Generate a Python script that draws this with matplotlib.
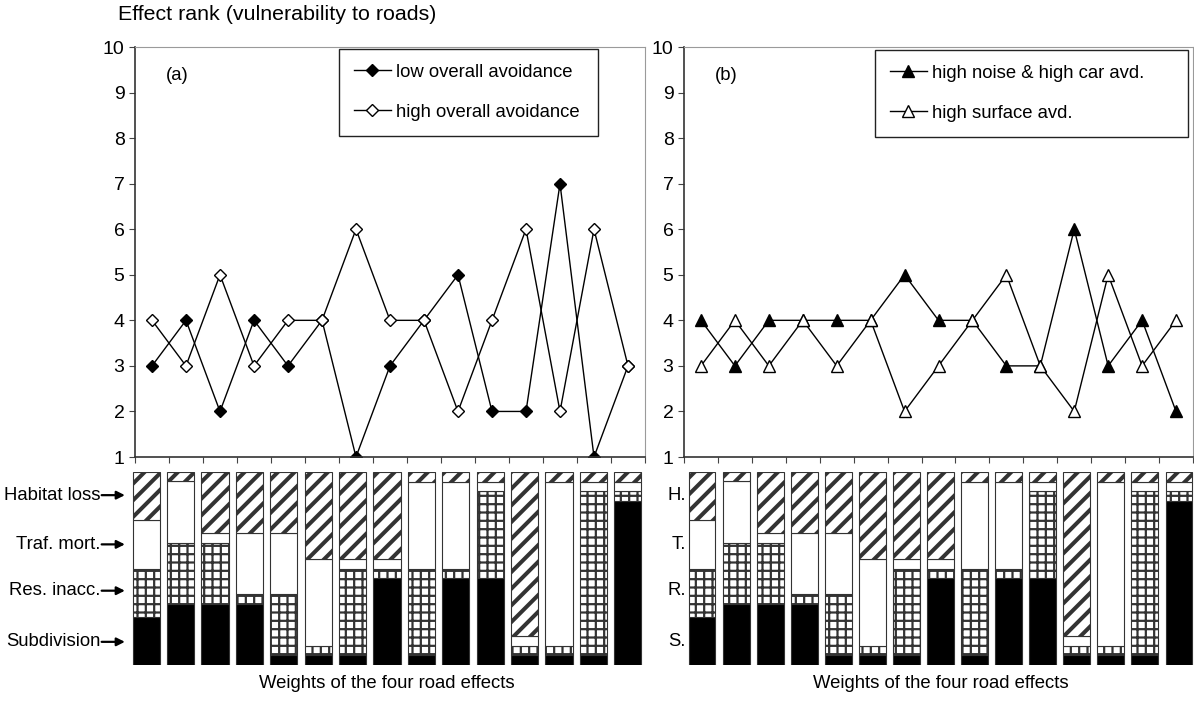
import numpy as np
import matplotlib
matplotlib.use('Agg')
import matplotlib.pyplot as plt

plt.rcParams['font.family'] = ['Liberation Sans', 'DejaVu Sans']
plt.rcParams['font.size'] = 13.3

# line data (effect rank), 15 weight combinations
low_avoid = [3, 4, 2, 4, 3, 4, 1, 3, 4, 5, 2, 2, 7, 1, 3]
high_avoid = [4, 3, 5, 3, 4, 4, 6, 4, 4, 2, 4, 6, 2, 6, 3]
noise_car = [4, 3, 4, 4, 4, 4, 5, 4, 4, 3, 3, 6, 3, 4, 2]
surface = [3, 4, 3, 4, 3, 4, 2, 3, 4, 5, 3, 2, 5, 3, 4]

# weights of the four road effects (bottom to top)
w_subdiv = [.25, .317, .317, .317, .05, .05, .05, .45, .05, .45, .45, .05, .05, .05, .85]
w_resinacc = [.25, .317, .317, .05, .317, .05, .45, .05, .45, .05, .45, .05, .05, .85, .05]
w_trafmort = [.25, .317, .05, .317, .317, .45, .05, .05, .45, .45, .05, .05, .85, .05, .05]
w_habloss = [.25, .05, .317, .317, .317, .45, .45, .45, .05, .05, .05, .85, .05, .05, .05]

long_names = ['Habitat loss', 'Traf. mort.', 'Res. inacc.', 'Subdivision']
short_names = ['H.', 'T.', 'R.', 'S.']

W, H = 1194, 702
fig = plt.figure(figsize=(W / 100, H / 100), dpi=100)

def px(x0, y0, x1, y1):
    return [x0 / W, 1 - y1 / H, (x1 - x0) / W, (y1 - y0) / H]

x = np.arange(15)
gray = '#9a9a9a'


def line_panel(rect, s1, s2, mk, ms, lab1, lab2, tag, leg_box):
    ax = fig.add_axes(rect)
    ax.plot(x, s1, color='black', lw=1, marker=mk, ms=ms, mfc='black', mec='black', label=lab1)
    ax.plot(x, s2, color='black', lw=1, marker=mk, ms=ms, mfc='white', mec='black', label=lab2)
    ax.set_xlim(-0.5, 14.5)
    ax.set_ylim(1, 10)
    ax.set_yticks(range(1, 11))
    ax.set_xticks(np.arange(-0.5, 15, 1))
    ax.set_xticklabels([])
    ax.tick_params(direction='out', length=4, color='#444444', labelsize=14)
    for s in ['top', 'right']:
        ax.spines[s].set_color(gray)
    for s in ['left', 'bottom']:
        ax.spines[s].set_color('#333333')
        ax.spines[s].set_linewidth(1.2)
    ax.text(0.06, 0.93, tag, transform=ax.transAxes, fontsize=13.3, ha='left', va='center')
    leg = ax.legend(loc='upper left', bbox_to_anchor=leg_box, mode='expand', borderaxespad=0,
                    fancybox=False, edgecolor='#222222', framealpha=1, handlelength=2.0,
                    labelspacing=1.25, borderpad=0.8, handletextpad=0.3, fontsize=13.3)
    leg.get_frame().set_linewidth(1.0)
    return ax


def bar_panel(rect, names, long_style):
    ax = fig.add_axes(rect)
    bottom = np.zeros(15)
    layers = [(w_subdiv, 'black', ''), (w_resinacc, 'white', '++'),
              (w_trafmort, 'white', ''), (w_habloss, 'white', '//')]
    for vals, fc, hatch in layers:
        lw_h = 2.9 if hatch == '//' else 1.6
        with plt.rc_context({'hatch.linewidth': lw_h, 'hatch.color': 'black'}):
            bars = ax.bar(x, vals, width=0.79, bottom=bottom, color=fc, hatch=hatch,
                          edgecolor='#333333', linewidth=0.8)
        for b in bars:
            if hasattr(b, 'set_hatch_linewidth'):
                b.set_hatch_linewidth(lw_h)
        bottom = bottom + np.array(vals)
    ax.set_xlim(-0.5, 14.5)
    ax.set_ylim(0, 1)
    ax.axis('off')
    ys = [0.88, 0.625, 0.385, 0.12]
    for nm, yy in zip(names, ys):
        if long_style:
            ax.text(-0.055, yy, nm, transform=ax.transAxes, ha='right', va='center', fontsize=13.3)
            ax.annotate('', xy=(-0.008, yy), xycoords='axes fraction',
                        xytext=(-0.053, yy), textcoords='axes fraction',
                        arrowprops=dict(arrowstyle='-|>', color='black', lw=1.6,
                                        mutation_scale=12, shrinkA=0, shrinkB=0))
        else:
            ax.text(0.002, yy, nm, transform=ax.transAxes, ha='right', va='center', fontsize=13.3)
    ax.text(0.5, -0.095, 'Weights of the four road effects', transform=ax.transAxes,
            ha='center', va='center', fontsize=13.3)
    return ax


line_panel(px(135, 47, 645, 457), low_avoid, high_avoid, 'D', 6,
           'low overall avoidance', 'high overall avoidance', '(a)', (0.4, 0.0, 0.508, 0.995))
line_panel(px(684, 47, 1193, 457), noise_car, surface, '^', 8,
           'high noise & high car avd.', 'high surface avd.', '(b)', (0.375, 0.0, 0.615, 0.993))

bar_panel(px(129, 472, 645, 665), long_names, True)
bar_panel(px(685, 472, 1196, 665), short_names, False)

fig.text(118 / W, 1 - 15 / H, 'Effect rank (vulnerability to roads)', ha='left', va='center', fontsize=15.4)

fig.savefig('out.png', dpi=100)
